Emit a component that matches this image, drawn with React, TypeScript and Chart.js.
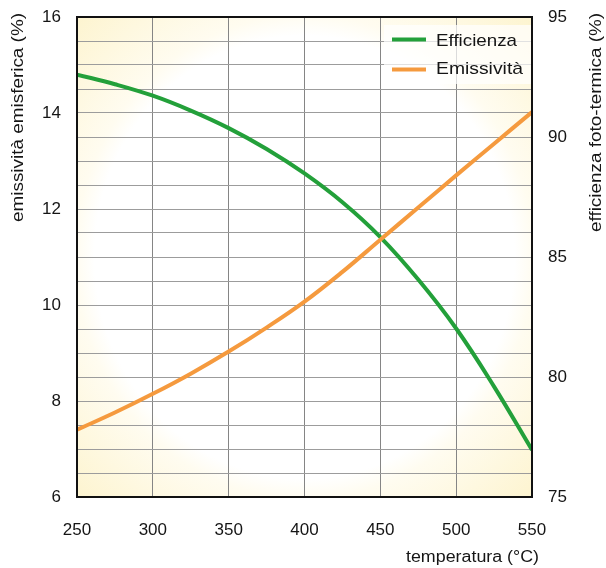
import React, { useEffect, useRef } from "react";
import { Chart, registerables } from "chart.js";

Chart.register(...registerables);

const temperatures = [250, 275, 300, 325, 350, 375, 400, 425, 450, 475, 500, 525, 550];
const emissivita = [7.4, 7.76, 8.15, 8.57, 9.03, 9.53, 10.07, 10.69, 11.36, 12.03, 12.7, 13.36, 14.02];
const efficienza = [92.6, 92.2, 91.72, 91.1, 90.37, 89.5, 88.48, 87.28, 85.83, 84.06, 82.02, 79.6, 76.96];

const leftTickLabels = [6, 8, 10, 12, 14, 16];
const xTitle = "temperatura (°C)";
const leftTitle = "emissività emisferica (%)";
const rightTitle = "efficienza foto-termica (%)";
const legendLabels = ["Efficienza", "Emissività"];

const GREEN = "#23a03a";
const ORANGE = "#f59a3e";
const FONT = "'Liberation Sans', Arial, Helvetica, sans-serif";
const TEXT = "#151515";

function drawFitted(ctx: CanvasRenderingContext2D, text: string, x: number, y: number, width: number, align: "left" | "center") {
  const w = ctx.measureText(text).width;
  const s = width / w;
  ctx.save();
  ctx.translate(x, y);
  ctx.scale(s, 1);
  ctx.textAlign = align;
  ctx.textBaseline = "middle";
  ctx.fillText(text, 0, 0);
  ctx.restore();
}

const decorPlugin = {
  id: "decor",
  beforeDraw(chart: any) {
    const { ctx, chartArea: a } = chart;
    const cx = (a.left + a.right) / 2;
    const cy = (a.top + a.bottom) / 2;
    const hw = (a.right - a.left) / 2;
    const hh = (a.bottom - a.top) / 2;
    ctx.save();
    ctx.beginPath();
    ctx.rect(a.left, a.top, a.right - a.left, a.bottom - a.top);
    ctx.clip();
    ctx.translate(cx, cy);
    ctx.scale(1, hh / hw);
    const r = hw * 1.42;
    const g = ctx.createRadialGradient(0, 0, 0, 0, 0, r);
    g.addColorStop(0, "#ffffff");
    g.addColorStop(0.65, "#ffffff");
    g.addColorStop(0.71, "#fffcf0");
    g.addColorStop(1, "#fdf4cf");
    ctx.fillStyle = g;
    ctx.fillRect(-hw, -hw, hw * 2, hw * 2);
    ctx.restore();
  },
  afterDatasetsDraw(chart: any) {
    const { ctx, chartArea: a } = chart;
    ctx.save();
    // legend box
    ctx.fillStyle = "rgba(255,255,255,0.7)";
    ctx.fillRect(384, 25, a.right - 384, 59);
    ctx.lineWidth = 4;
    ctx.strokeStyle = GREEN;
    ctx.beginPath();
    ctx.moveTo(392, 39.5);
    ctx.lineTo(426, 39.5);
    ctx.stroke();
    ctx.strokeStyle = ORANGE;
    ctx.beginPath();
    ctx.moveTo(392, 69.5);
    ctx.lineTo(426, 69.5);
    ctx.stroke();
    ctx.fillStyle = TEXT;
    ctx.font = "17px " + FONT;
    drawFitted(ctx, legendLabels[0], 436, 41.5, 81, "left");
    drawFitted(ctx, legendLabels[1], 436, 69, 87, "left");
    // border
    ctx.strokeStyle = "#111111";
    ctx.lineWidth = 2;
    ctx.strokeRect(a.left, a.top, a.right - a.left, a.bottom - a.top);
    // axis titles
    ctx.font = "16px " + FONT;
    ctx.fillStyle = TEXT;
    drawFitted(ctx, xTitle, 472.5, 558, 133, "center");
    ctx.save();
    ctx.translate(19, 117.5);
    ctx.rotate(-Math.PI / 2);
    drawFitted(ctx, leftTitle, 0, 0, 209, "center");
    ctx.restore();
    ctx.save();
    ctx.translate(597, 122.5);
    ctx.rotate(-Math.PI / 2);
    drawFitted(ctx, rightTitle, 0, 0, 219, "center");
    ctx.restore();
    ctx.restore();
  },
};

export default function App() {
  const ref = useRef<HTMLCanvasElement>(null);
  useEffect(() => {
    if (!ref.current) return;
    const chart = new Chart(ref.current, {
      type: "line",
      data: {
        datasets: [
          {
            label: legendLabels[1],
            data: temperatures.map((t, i) => ({ x: t, y: emissivita[i] })),
            yAxisID: "y",
            borderColor: ORANGE,
            borderWidth: 4,
            pointRadius: 0,
            tension: 0.4,
            fill: false,
          },
          {
            label: legendLabels[0],
            data: temperatures.map((t, i) => ({ x: t, y: efficienza[i] })),
            yAxisID: "y1",
            borderColor: GREEN,
            borderWidth: 4,
            pointRadius: 0,
            tension: 0.4,
            fill: false,
          },
        ],
      },
      options: {
        animation: false,
        responsive: false,
        layout: { padding: { top: 17, left: 0, right: 0, bottom: 0 } },
        plugins: { legend: { display: false }, tooltip: { enabled: false } },
        scales: {
          x: {
            type: "linear",
            min: 250,
            max: 550,
            afterFit(s: any) { s.height = 71; s.paddingLeft = 0; s.paddingRight = 0; },
            ticks: { stepSize: 50, padding: 23, color: TEXT, font: { family: FONT, size: 17 }, maxRotation: 0 },
            grid: { color: "#858585", lineWidth: 1, drawTicks: false },
            border: { display: false },
          },
          y: {
            position: "left",
            min: 6,
            max: 16,
            afterFit(s: any) { s.width = 77; s.paddingTop = 0; s.paddingBottom = 0; },
            ticks: {
              stepSize: 0.5,
              maxTicksLimit: 100,
              autoSkip: false,
              padding: 16,
              color: TEXT,
              font: { family: FONT, size: 17 },
              callback: (v: any) => (leftTickLabels.includes(v) ? String(v) : ""),
            },
            grid: { color: "#9c9c9c", lineWidth: 1, drawTicks: false },
            border: { display: false },
          },
          y1: {
            position: "right",
            min: 75,
            max: 95,
            afterFit(s: any) { s.width = 74; s.paddingTop = 0; s.paddingBottom = 0; },
            ticks: { stepSize: 5, padding: 16, color: TEXT, font: { family: FONT, size: 17 } },
            grid: { display: false, drawTicks: false },
            border: { display: false },
          },
        },
      },
      plugins: [decorPlugin],
    } as any);
    return () => chart.destroy();
  }, []);
  return (
    <div style={{ position: "absolute", left: 0, top: 0, width: 606, height: 568 }}>
      <canvas ref={ref} width={606} height={568} style={{ display: "block" }} />
    </div>
  );
}
